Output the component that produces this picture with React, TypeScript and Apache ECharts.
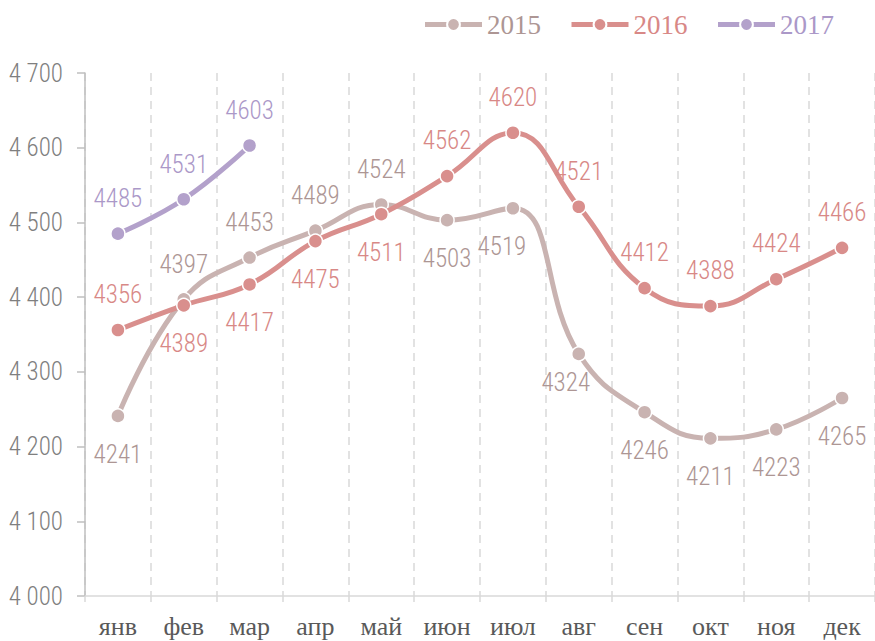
import React, { useEffect, useRef } from "react";
import * as echarts from "echarts";

const months = ["янв", "фев", "мар", "апр", "май", "июн", "июл", "авг", "сен", "окт", "ноя", "дек"];
const s2015 = [4241, 4397, 4453, 4489, 4524, 4503, 4519, 4324, 4246, 4211, 4223, 4265];
const s2016 = [4356, 4389, 4417, 4475, 4511, 4562, 4620, 4521, 4412, 4388, 4424, 4466];
const s2017 = [4485, 4531, 4603];
const pos2015 = ["bottom", "top", "top", "top", "top", "bottom", "bottom", "bottom", "bottom", "bottom", "bottom", "bottom"];
const pos2016 = ["top", "bottom", "bottom", "bottom", "bottom", "top", "top", "top", "top", "top", "top", "top"];
const pos2017 = ["top", "top", "top"];
const off2015: (number[] | null)[] = [null, null, null, null, null, null, [-11, 0], [-13, -10], null, null, null, null];

const C15 = "#c9b3b1";
const C16 = "#d98f8d";
const C17 = "#b3a1cb";
const L15 = "#ad9694";
const L16 = "#d88886";
const L17 = "#ab98c8";

const labelFont = "Roboto Condensed";
const serif = "Liberation Serif";

function mk(name: string, vals: number[], pos: string[], color: string, lcolor: string, offs?: (number[] | null)[]) {
  return {
    name,
    type: "line",
    smooth: 0.45,
    symbol: "circle",
    symbolSize: 14,
    lineStyle: { width: 5, color },
    itemStyle: { color, borderColor: "#fff", borderWidth: 1.5 },
    label: {
      show: true,
      color: lcolor,
      fontFamily: labelFont,
      fontWeight: 300,
      fontSize: 25,
    },
    data: vals.map((v, i) => {
      const lab: any = { position: pos[i], distance: pos[i] === "top" ? 15 : 18 };
      if (offs && offs[i]) lab.offset = offs[i];
      return { value: v, label: lab };
    }),
    z: name === "2016" ? 3 : 2,
  };
}

export default function App() {
  const ref = useRef<HTMLDivElement>(null);
  useEffect(() => {
    const chart = echarts.init(ref.current!, null, { renderer: "svg" });
    chart.setOption({
      animation: false,
      backgroundColor: "#fff",
      legend: {
        top: 6,
        right: 36,
        itemWidth: 57,
        itemHeight: 16,
        itemGap: 28,
        lineStyle: { width: 5 },
        textStyle: { fontFamily: serif, fontSize: 27 },
        data: [
          { name: "2015", textStyle: { color: L15 } },
          { name: "2016", textStyle: { color: L16 } },
          { name: "2017", textStyle: { color: L17 } },
        ],
      },
      grid: { left: 85, top: 73, width: 794, bottom: 45, containLabel: false },
      xAxis: {
        type: "category",
        data: months,
        boundaryGap: true,
        axisLine: { lineStyle: { color: "#d9d9d9", width: 1.5 } },
        axisTick: { show: true, length: 6, lineStyle: { color: "#d9d9d9", width: 1.5 } },
        axisLabel: {
          color: "#595959",
          fontFamily: serif,
          fontSize: 26,
          margin: 17,
        },
        splitLine: { show: true, lineStyle: { color: "#d9d9d9", type: [8, 6], width: 1.5 } },
      },
      yAxis: {
        type: "value",
        min: 4000,
        max: 4700,
        interval: 100,
        axisLine: { show: true, lineStyle: { color: "#bfbfbf", width: 1.5 } },
        axisTick: { show: true, length: 8, lineStyle: { color: "#bfbfbf", width: 1.5 } },
        splitLine: { show: false },
        axisLabel: {
          color: "#7f7f7f",
          fontFamily: labelFont,
          fontWeight: 300,
          fontSize: 25,
          margin: 22,
          formatter: (v: number) => String(v).replace(/\B(?=(\d{3})+(?!\d))/g, " "),
        },
      },
      series: [
        mk("2015", s2015, pos2015, C15, L15, off2015),
        mk("2016", s2016, pos2016, C16, L16),
        mk("2017", s2017, pos2017, C17, L17),
      ],
    });
    return () => chart.dispose();
  }, []);
  return <div ref={ref} style={{ width: 875, height: 641, position: "absolute", left: 0, top: 0 }} />;
}
